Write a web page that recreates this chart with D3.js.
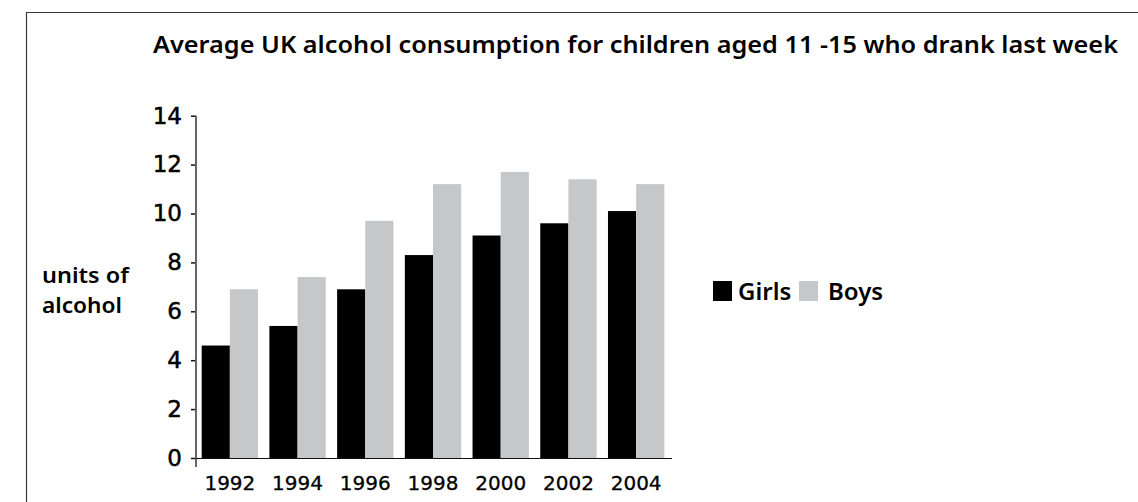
<!DOCTYPE html>
<html>
<head>
<meta charset="utf-8">
<script src="https://cdn.jsdelivr.net/npm/d3@7"></script>
<style>
  html, body { margin: 0; padding: 0; background: #fff; }
  svg { display: block; }
</style>
</head>
<body>
<svg id="chart" width="1138" height="502"></svg>
<script>
// Average units of alcohol per week, children aged 11-15 who drank last week
const years = ["1992", "1994", "1996", "1998", "2000", "2002", "2004"];
const seriesNames = ["Girls", "Boys"];
const girls = [4.6, 5.4, 6.9, 8.3, 9.1, 9.6, 10.1];
const boys = [6.9, 7.4, 9.7, 11.2, 11.7, 11.4, 11.2];
const yTicks = [0, 2, 4, 6, 8, 10, 12, 14];
const titleText = "Average UK alcohol consumption for children aged 11 -15 who drank last week";
const yLabelLines = ["units of", "alcohol"];

const colors = { Girls: "#000000", Boys: "#c6c7c9" };
const textFont = "'Noto Sans', 'Open Sans', sans-serif";
const numFont = "'DejaVu Sans', sans-serif";

const svg = d3.select("#chart");

// frame around the chart area
svg.append("path")
  .attr("d", "M26.5,502 V12.5 H1138")
  .attr("fill", "none")
  .attr("stroke", "#3a3a3a")
  .attr("stroke-width", 1.2);

const plot = { left: 196, right: 670, top: 115.7, bottom: 458 };

const x = d3.scaleBand()
  .domain(years)
  .range([plot.left, plot.right])
  .paddingInner(0.168)
  .paddingOuter(0.084);

const xSub = d3.scaleBand()
  .domain(seriesNames)
  .range([0, x.bandwidth()]);

const y = d3.scaleLinear()
  .domain([0, 14])
  .range([plot.bottom, plot.top]);

const rows = years.map((yr, i) => ({ year: yr, Girls: girls[i], Boys: boys[i] }));

// bars
const groups = svg.append("g").selectAll("g")
  .data(rows)
  .join("g")
  .attr("transform", d => `translate(${x(d.year)},0)`);

groups.selectAll("rect")
  .data(d => seriesNames.map(s => ({ key: s, value: d[s] })))
  .join("rect")
  .attr("x", d => xSub(d.key))
  .attr("width", xSub.bandwidth())
  .attr("y", d => y(d.value))
  .attr("height", d => y(0) - y(d.value))
  .attr("fill", d => colors[d.key]);

// y axis
const yAxis = svg.append("g")
  .attr("transform", `translate(${plot.left},0)`)
  .call(d3.axisLeft(y).tickValues(yTicks).tickSize(5).tickPadding(9));
yAxis.select(".domain").remove();
yAxis.selectAll(".tick line").attr("stroke", "#111").attr("stroke-width", 1.5);
yAxis.selectAll(".tick text")
  .attr("font-family", numFont)
  .attr("font-size", 23)
  .attr("fill", "#000")
  .attr("stroke", "#000")
  .attr("stroke-width", 0.5);

// vertical axis line runs a little past the baseline
svg.append("line")
  .attr("x1", plot.left).attr("x2", plot.left)
  .attr("y1", y(14)).attr("y2", y(0) + 9)
  .attr("stroke", "#666")
  .attr("stroke-width", 2);

// x axis
svg.append("line")
  .attr("x1", plot.left).attr("x2", plot.right + 2)
  .attr("y1", y(0) + 0.5).attr("y2", y(0) + 0.5)
  .attr("stroke", "#111")
  .attr("stroke-width", 1.2);

const xAxis = svg.append("g")
  .attr("transform", `translate(0,${plot.bottom})`)
  .call(d3.axisBottom(x).tickSize(0).tickPadding(18));
xAxis.select(".domain").remove();
xAxis.selectAll(".tick text")
  .attr("font-family", numFont)
  .attr("font-size", 20)
  .attr("fill", "#000")
  .attr("stroke", "#000")
  .attr("stroke-width", 0.3);

// title
svg.append("text")
  .attr("x", 153)
  .attr("y", 53)
  .attr("font-family", textFont)
  .attr("font-weight", 600)
  .attr("font-size", 24)
  .attr("textLength", 965)
  .attr("lengthAdjust", "spacingAndGlyphs")
  .attr("fill", "#000")
  .text(titleText);

// y axis label
const yLabelWidths = [87, 80];
svg.append("text")
  .attr("font-family", textFont)
  .attr("font-weight", 600)
  .attr("font-size", 22)
  .attr("fill", "#000")
  .selectAll("tspan")
  .data(yLabelLines)
  .join("tspan")
  .attr("x", 42)
  .attr("y", (d, i) => 283 + i * 30)
  .attr("textLength", (d, i) => yLabelWidths[i])
  .attr("lengthAdjust", "spacingAndGlyphs")
  .text(d => d);

// legend
const legendItems = [
  { key: "Girls", sx: 713, tx: 738 },
  { key: "Boys", sx: 799, tx: 828 }
];
const legend = svg.append("g");
legend.selectAll("rect")
  .data(legendItems)
  .join("rect")
  .attr("x", d => d.sx)
  .attr("y", 281)
  .attr("width", 19)
  .attr("height", 20)
  .attr("fill", d => colors[d.key]);
legend.selectAll("text")
  .data(legendItems)
  .join("text")
  .attr("x", d => d.tx)
  .attr("y", 300)
  .attr("font-family", textFont)
  .attr("font-weight", 600)
  .attr("font-size", 24)
  .attr("fill", "#000")
  .text(d => d.key);
</script>
</body>
</html>
